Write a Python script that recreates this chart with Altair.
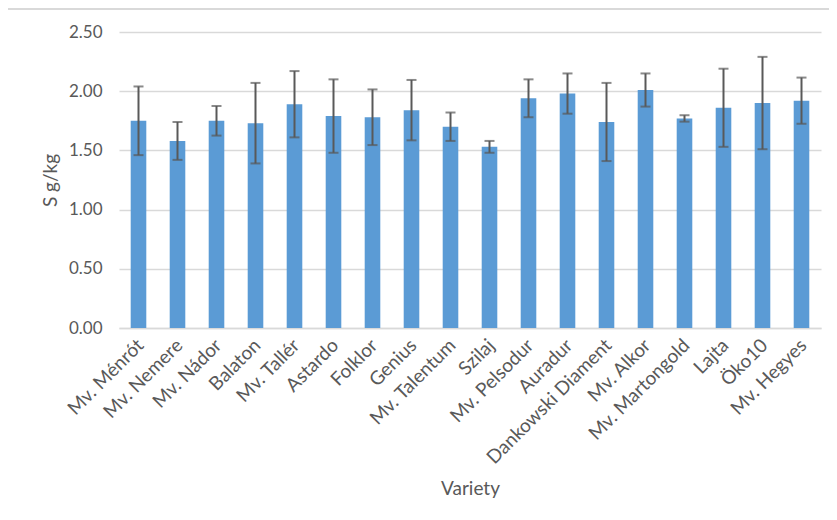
import altair as alt
import pandas as pd

varieties = ["Mv. Ménrót", "Mv. Nemere", "Mv. Nádor", "Balaton", "Mv. Tallér", "Astardo",
             "Folklor", "Genius", "Mv. Talentum", "Szilaj", "Mv. Pelsodur", "Auradur",
             "Dankowski Diament", "Mv. Alkor", "Mv. Martongold", "Lajta", "Öko10", "Mv. Hegyes"]
means = [1.75, 1.58, 1.75, 1.73, 1.89, 1.79, 1.78, 1.84, 1.70, 1.53, 1.94, 1.98,
         1.74, 2.01, 1.77, 1.86, 1.90, 1.92]
errors = [0.29, 0.16, 0.125, 0.34, 0.28, 0.31, 0.235, 0.255, 0.12, 0.05, 0.16, 0.17,
          0.33, 0.14, 0.027, 0.33, 0.39, 0.195]

df = pd.DataFrame({"Variety": varieties, "S": means, "err": errors})
df["lo"] = df["S"] - df["err"]
df["hi"] = df["S"] + df["err"]

FONT = "Lato"
GRAY = "#595959"

xenc = alt.X("Variety:N", sort=varieties,
             scale=alt.Scale(paddingInner=0.6, paddingOuter=0.3),
             axis=alt.Axis(title="Variety", labelAngle=-45, labelAlign="right",
                           labelBaseline="middle", labelPadding=14, labelOffset=2, ticks=False,
                           domainColor="#D9D9D9", domainWidth=1.5,
                           labelColor=GRAY, labelFont=FONT, labelFontSize=19,
                           titleColor=GRAY, titleFont=FONT, titleFontSize=19,
                           titleFontWeight="normal", titleY=160, titleBaseline="middle"))

bars = alt.Chart(df).mark_bar(color="#5B9BD5").encode(
    x=xenc,
    y=alt.Y("S:Q", scale=alt.Scale(domain=[0, 2.5], nice=False),
            axis=alt.Axis(title="S g/kg", values=[0, 0.5, 1, 1.5, 2, 2.5], format=".2f",
                          domain=False, ticks=False, labelPadding=17,
                          gridColor="#D9D9D9", gridWidth=1.5,
                          labelColor=GRAY, labelFont=FONT, labelFontSize=17,
                          titleColor=GRAY, titleFont=FONT, titleFontSize=19,
                          titleFontWeight="normal", titleX=-69, titleBaseline="middle")),
)

rules = alt.Chart(df).mark_rule(color=GRAY, strokeWidth=2).encode(
    x=alt.X("Variety:N", sort=varieties), y="lo:Q", y2="hi:Q")
cap_lo = alt.Chart(df).mark_tick(color=GRAY, thickness=2, size=10, orient="horizontal").encode(
    x=alt.X("Variety:N", sort=varieties), y="lo:Q")
cap_hi = alt.Chart(df).mark_tick(color=GRAY, thickness=2, size=10, orient="horizontal").encode(
    x=alt.X("Variety:N", sort=varieties), y="hi:Q")

frame = alt.Chart(pd.DataFrame({"a": [0]})).mark_rect(
    fill=None, stroke="#D9D9D9", strokeWidth=2).encode(
    x=alt.value(-114), x2=alt.value(760), y=alt.value(-23), y2=alt.value(560))

chart = alt.layer(frame, bars, rules, cap_lo, cap_hi).properties(
    width=702, height=296,
    autosize=alt.AutoSizeParams(type="none"),
    padding={"left": 111, "top": 24, "right": 8, "bottom": 184},
    background="white",
).configure_view(stroke=None)

chart.save("out.html", embed_options={"renderer": "svg", "actions": False})
